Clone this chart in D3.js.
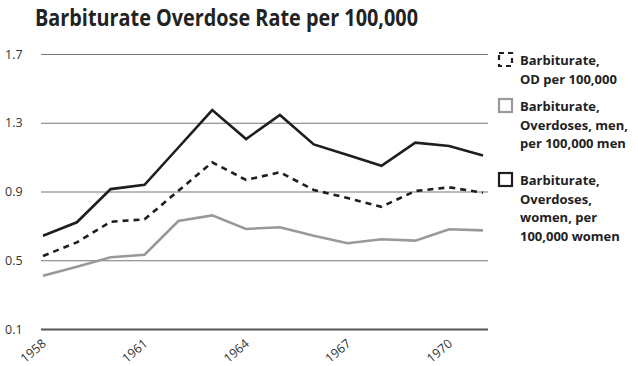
<!DOCTYPE html>
<html>
<head>
<meta charset="utf-8">
<script src="https://cdn.jsdelivr.net/npm/d3@7"></script>
<style>
  html, body { margin: 0; padding: 0; background: #fff; }
  svg { display: block; font-family: "Open Sans", "DejaVu Sans", sans-serif; }
</style>
</head>
<body>
<svg id="chart" width="638" height="366"></svg>
<script>
// Years covered by the series
const years = [1958, 1959, 1960, 1961, 1962, 1963, 1964, 1965, 1966, 1967, 1968, 1969, 1970, 1971];
// Overall barbiturate overdose rate per 100,000
const odAll = [0.525, 0.604, 0.724, 0.738, 0.904, 1.07, 0.967, 1.012, 0.909, 0.862, 0.811, 0.903, 0.924, 0.893];
// Overdoses among men, per 100,000 men
const odMen = [0.41, 0.462, 0.517, 0.532, 0.728, 0.761, 0.682, 0.692, 0.643, 0.599, 0.622, 0.614, 0.68, 0.674];
// Overdoses among women, per 100,000 women
const odWomen = [0.643, 0.721, 0.914, 0.939, 1.156, 1.374, 1.205, 1.345, 1.174, 1.112, 1.05, 1.184, 1.165, 1.11];

const yTicks = [0.1, 0.5, 0.9, 1.3, 1.7];
const xTicks = [1958, 1961, 1964, 1967, 1970];

const titleText = "Barbiturate Overdose Rate per 100,000";
const legendItems = [
  { lines: ["Barbiturate,", "OD per 100,000"], key: "all" },
  { lines: ["Barbiturate,", "Overdoses, men,", "per 100,000 men"], key: "men" },
  { lines: ["Barbiturate,", "Overdoses,", "women, per", "100,000 women"], key: "women" }
];

const styles = {
  all:   { stroke: "#1e1e1e", dash: "6,5" },
  men:   { stroke: "#999999", dash: null },
  women: { stroke: "#1e1e1e", dash: null }
};

const svg = d3.select("#chart");

const x = d3.scaleLinear().domain([1958, 1971]).range([43, 483]);
const y = d3.scaleLinear().domain([0.1, 1.7]).range([329, 54]);

// Title, set in a narrow bold cut
svg.append("text")
  .attr("x", 35).attr("y", 26)
  .attr("font-size", 22.5).attr("font-weight", 700)
  .attr("fill", "#222")
  .attr("textLength", 383)
  .attr("lengthAdjust", "spacingAndGlyphs")
  .text(titleText);

// Horizontal gridlines with left labels
const gridLeft = 41, gridRight = 488;
const yAxis = d3.axisLeft(y)
  .tickValues(yTicks)
  .tickSize(-(gridRight - gridLeft))
  .tickFormat(d3.format(".1f"));

const gy = svg.append("g").attr("transform", `translate(${gridLeft},0)`).call(yAxis);
gy.select(".domain").remove();
gy.selectAll(".tick line")
  .attr("stroke", d => d === 0.1 ? "#555" : "#777")
  .attr("stroke-width", d => d === 0.1 ? 2 : 1.2);
gy.selectAll(".tick text")
  .attr("x", 5 - gridLeft).attr("text-anchor", "start")
  .attr("font-size", 12.5).attr("fill", "#333")
  .attr("font-family", "'Open Sans', sans-serif");

// Rotated year labels
svg.append("g").selectAll("text")
  .data(xTicks)
  .join("text")
  .attr("transform", d => `translate(${x(d) + 4},${345}) rotate(-40)`)
  .attr("text-anchor", "end")
  .attr("font-size", 12.5).attr("fill", "#333")
  .text(d => d);

// Lines
const series = [
  { key: "men", values: odMen },
  { key: "all", values: odAll },
  { key: "women", values: odWomen }
];
const line = d3.line().x((d, i) => x(years[i])).y(d => y(d));

svg.append("g").selectAll("path")
  .data(series)
  .join("path")
  .attr("d", s => line(s.values))
  .attr("fill", "none")
  .attr("stroke", s => styles[s.key].stroke)
  .attr("stroke-width", 2.6)
  .attr("stroke-linejoin", "miter")
  .attr("stroke-dasharray", s => styles[s.key].dash);

// Legend
const legendTops = [52, 98, 172];
const lg = svg.append("g");
legendItems.forEach((item, i) => {
  const top = legendTops[i];
  const st = styles[item.key];
  lg.append("rect")
    .attr("x", 499).attr("y", top + 1)
    .attr("width", 13).attr("height", 13)
    .attr("fill", "none")
    .attr("stroke", st.stroke)
    .attr("stroke-width", 2.2)
    .attr("stroke-dasharray", st.dash ? "5,4" : null);
  lg.append("text")
    .attr("x", 520).attr("y", top + 13)
    .attr("font-size", 13).attr("font-weight", 700).attr("fill", "#222")
    .selectAll("tspan")
    .data(item.lines)
    .join("tspan")
    .attr("x", 520)
    .attr("dy", (d, j) => j === 0 ? 0 : 18.5)
    .text(d => d);
});
</script>
</body>
</html>
